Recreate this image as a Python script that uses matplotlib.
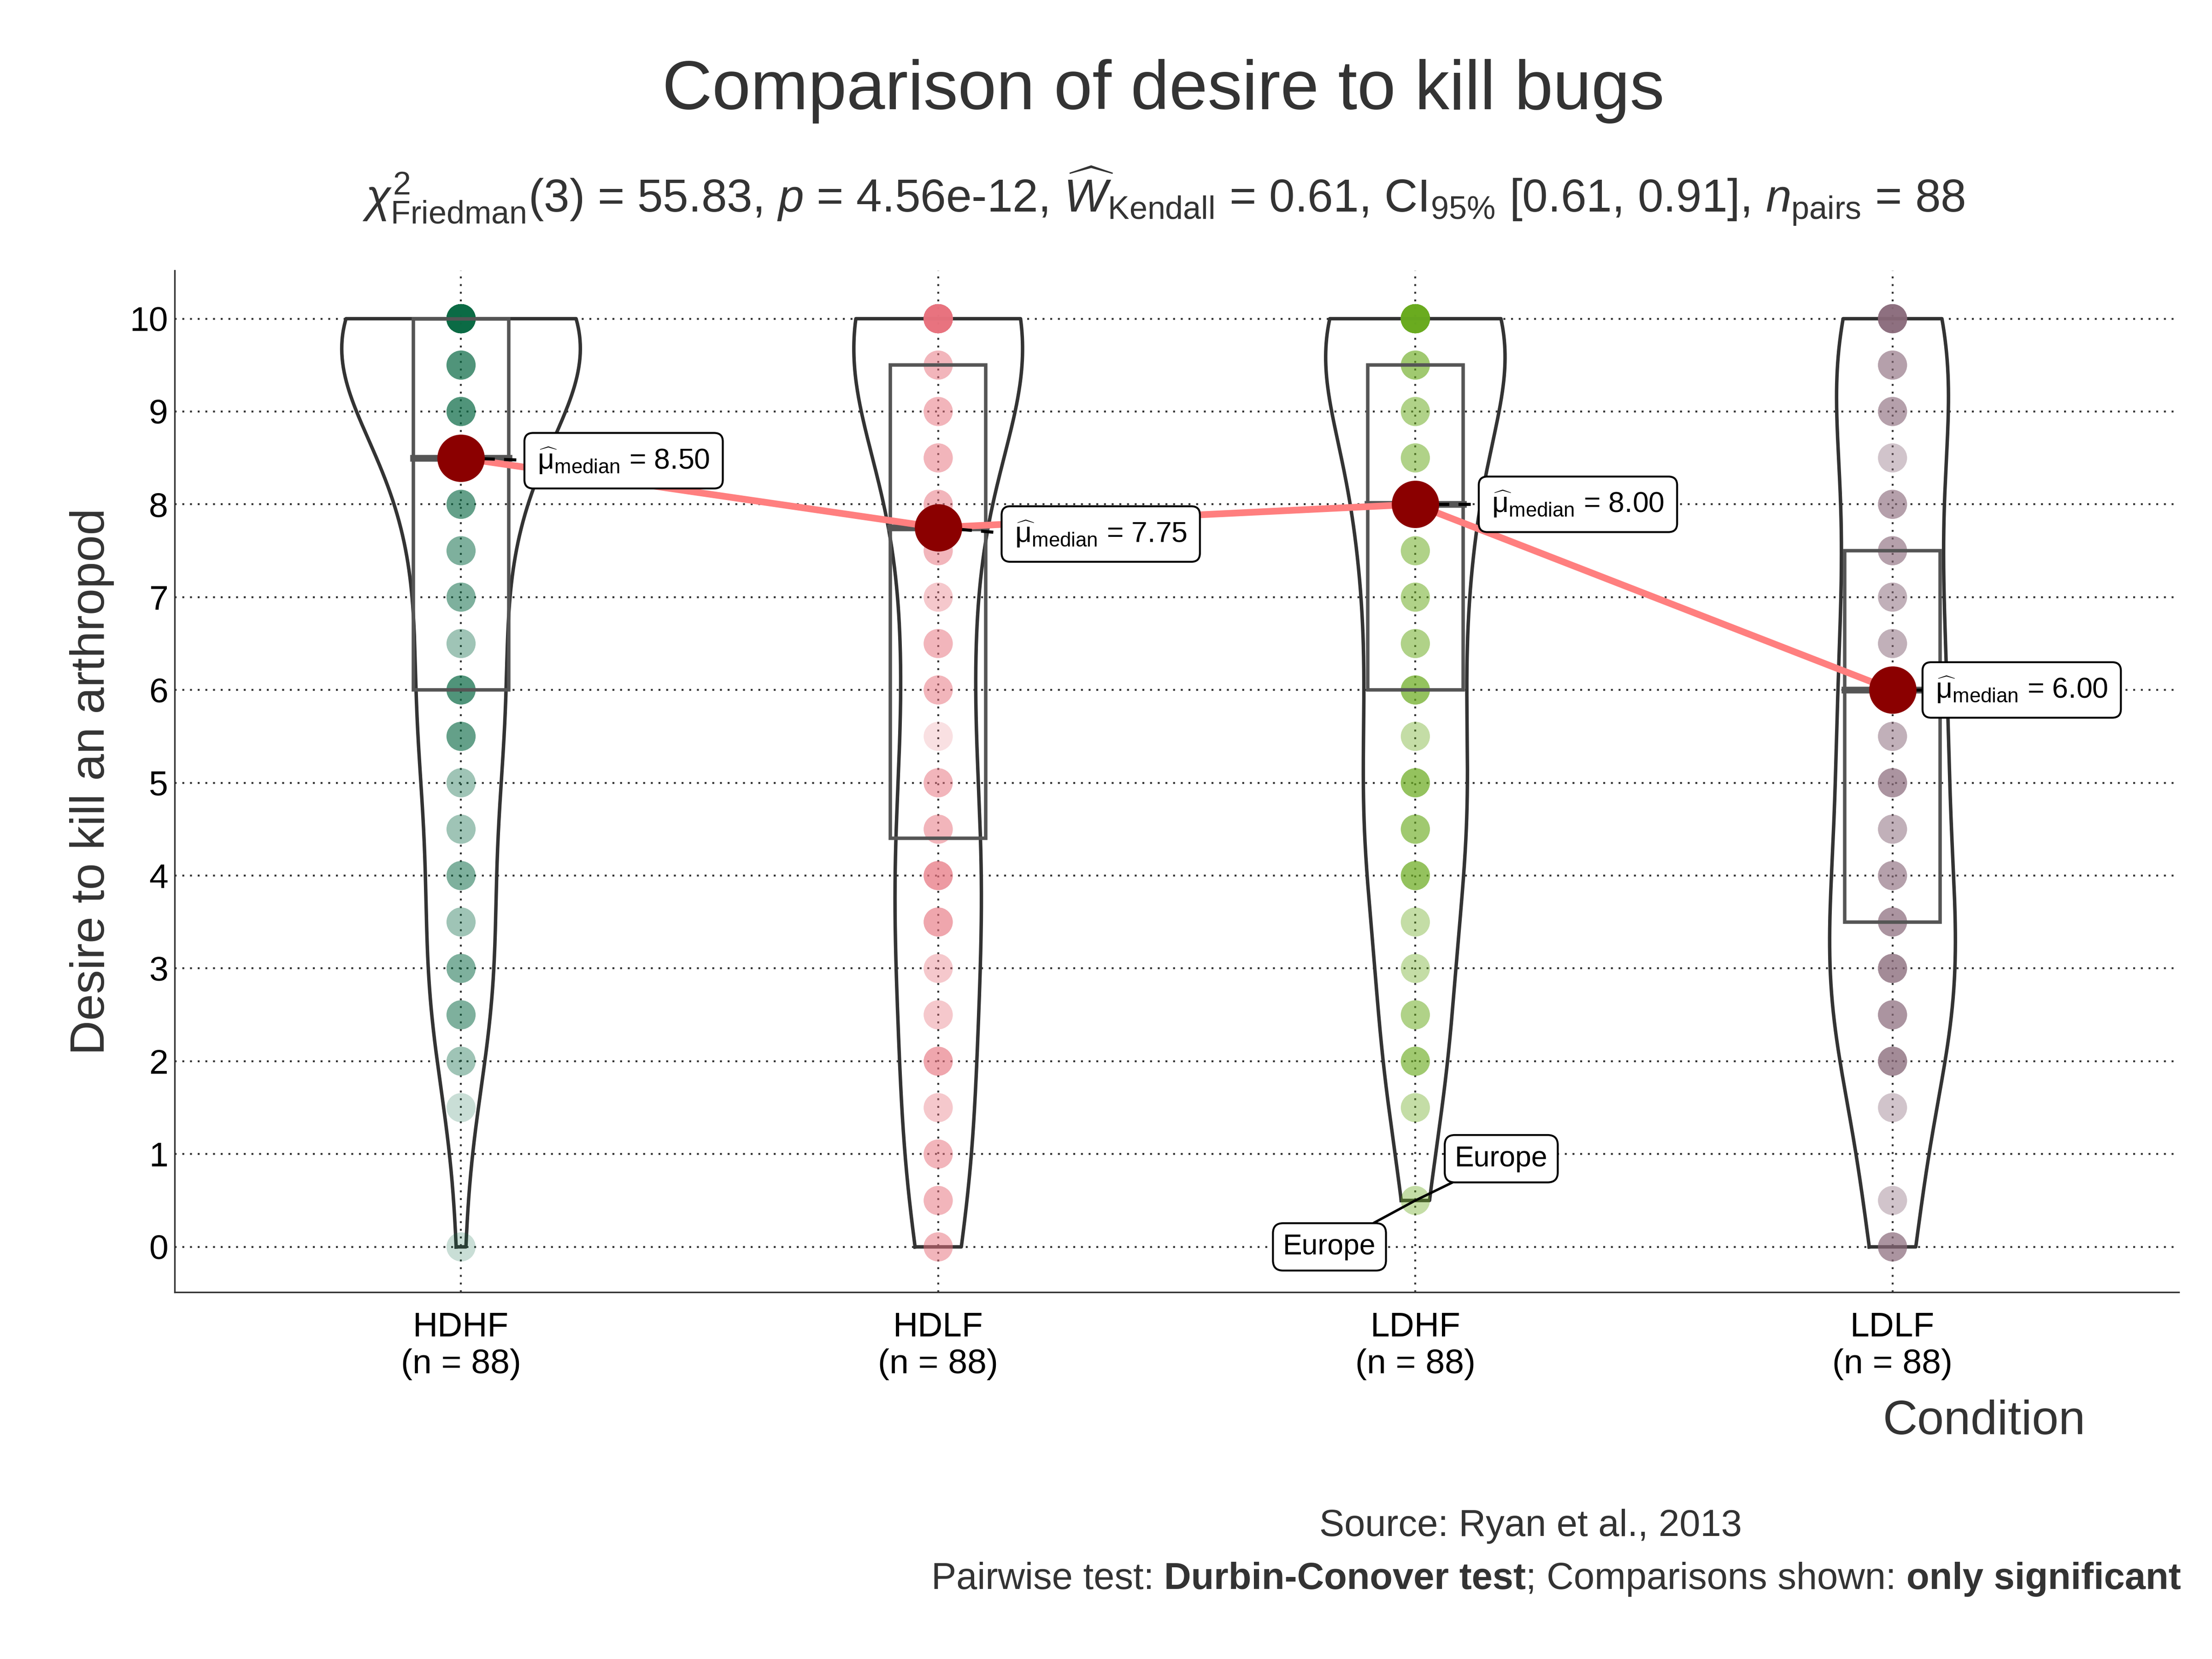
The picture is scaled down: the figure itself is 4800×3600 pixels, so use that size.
import numpy as np
import matplotlib
matplotlib.use("Agg")
import matplotlib.pyplot as plt
from matplotlib.offsetbox import TextArea, HPacker, AnchoredOffsetbox

plt.rcParams['font.family'] = ['Liberation Sans', 'DejaVu Sans']
plt.rcParams['mathtext.fontset'] = 'custom'
plt.rcParams['mathtext.rm'] = 'Liberation Sans'
plt.rcParams['mathtext.it'] = 'Liberation Sans:italic'
plt.rcParams['mathtext.bf'] = 'Liberation Sans:bold'

groups = ["HDHF", "HDLF", "LDHF", "LDLF"]
colors = ["#0B6B45", "#E8737F", "#6AAB1F", "#8B6B7B"]
values = [0, 0.5, 1, 1.5, 2, 2.5, 3, 3.5, 4, 4.5, 5, 5.5, 6, 6.5, 7, 7.5, 8, 8.5, 9, 9.5, 10]
counts = {
    "HDHF": [1, 0, 0, 1, 2, 3, 3, 2, 3, 2, 2, 4, 5, 2, 3, 3, 4, 6, 5, 5, 32],
    "HDLF": [3, 3, 3, 2, 4, 2, 2, 4, 5, 3, 3, 1, 3, 3, 2, 3, 3, 3, 3, 3, 30],
    "LDHF": [0, 2, 0, 2, 4, 3, 2, 2, 5, 4, 5, 2, 5, 3, 3, 3, 8, 3, 3, 4, 25],
    "LDLF": [5, 2, 0, 2, 6, 5, 6, 5, 4, 3, 5, 3, 6, 3, 3, 4, 4, 2, 4, 4, 12],
}
q1 = [6.0, 4.4, 6.0, 3.5]
medians = [8.50, 7.75, 8.00, 6.00]
q3 = [10.0, 9.5, 9.5, 7.5]

fig = plt.figure(figsize=(16, 12), dpi=300)
ax = fig.add_axes([0.079, 0.221, 0.906, 0.616])
ax.set_xlim(0.4, 4.6)
ax.set_ylim(-0.49, 10.52)

dens_all = []
for g in groups:
    d = np.repeat(values, counts[g])
    n = len(d)
    iqr = np.subtract(*np.percentile(d, [75, 25]))
    bw = 0.9 * min(d.std(ddof=1), iqr / 1.34) * n ** (-0.2)
    ys = np.linspace(d.min(), d.max(), 400)
    dens = np.exp(-0.5 * ((ys[:, None] - d[None, :]) / bw) ** 2).sum(1) / (n * bw * np.sqrt(2 * np.pi))
    dens_all.append((ys, dens))
gmax = max(dd.max() for _, dd in dens_all)
for i, (ys, dens) in enumerate(dens_all):
    x = i + 1
    w = dens / gmax * 0.25
    ax.plot(np.r_[x - w, (x + w)[::-1], x - w[0]], np.r_[ys, ys[::-1], ys[0]],
            color="#333333", lw=1.8, zorder=3)

for i, g in enumerate(groups):
    d = np.repeat(values, counts[g])
    ax.scatter(np.full(len(d), i + 1), d, s=230, color=colors[i], alpha=0.22,
               edgecolors='none', zorder=4)

for i in range(4):
    x = i + 1
    ax.add_patch(plt.Rectangle((x - 0.1, q1[i]), 0.2, q3[i] - q1[i], fill=False,
                               ec="#555555", lw=1.8, zorder=5))
    ax.plot([x - 0.1, x + 0.1], [medians[i]] * 2, color="#555555", lw=3.5, zorder=5)

xs = np.arange(1, 5)
ax.plot(xs, medians, color="#FF7F7F", lw=3.5, zorder=6)
ax.scatter(xs, medians, s=560, color="#8B0000", zorder=7)

label_off = [(0.16, -0.03), (0.16, -0.07), (0.16, 0.0), (0.09, 0.0)]
for i in range(4):
    lx = xs[i] + label_off[i][0]
    ly = medians[i] + label_off[i][1]
    ax.plot([xs[i], lx], [medians[i], ly], color="black", ls=(0, (4, 3)), lw=1.6, zorder=6)
    ax.text(lx, ly, r"$\widehat{\mathrm{μ}}_{\mathrm{median}}$ = %.2f" % medians[i], fontsize=15,
            va="center", ha="left", zorder=8,
            bbox=dict(boxstyle="round,pad=0.45,rounding_size=0.3", fc="white", ec="black", lw=1.0))

ax.annotate("Europe", xy=(3, 0.5), xytext=(2.82, 0.0), fontsize=15, ha="center", va="center",
            arrowprops=dict(arrowstyle="-", color="black", lw=1.3, shrinkA=0, shrinkB=0),
            bbox=dict(boxstyle="round,pad=0.35", fc="white", ec="black", lw=1.0), zorder=8)
ax.annotate("Europe", xy=(3, 0.5), xytext=(3.18, 0.95), fontsize=15, ha="center", va="center",
            arrowprops=dict(arrowstyle="-", color="black", lw=1.3, shrinkA=0, shrinkB=0),
            bbox=dict(boxstyle="round,pad=0.35", fc="white", ec="black", lw=1.0), zorder=8)

ax.set_yticks(range(0, 11))
ax.set_xticks(xs)
ax.set_xticklabels([f"{g}\n(n = 88)" for g in groups], fontsize=18)
ax.tick_params(axis='y', labelsize=18, length=0)
ax.tick_params(axis='x', length=0, pad=10)
ax.grid(True, ls=(0, (1, 3)), color="#333333", lw=1.0)
ax.set_axisbelow(True)
for s in ["top", "right"]:
    ax.spines[s].set_visible(False)
for s in ["left", "bottom"]:
    ax.spines[s].set_color("#333333")
ax.set_ylabel("Desire to kill an arthropod", fontsize=25, color="#333333", labelpad=8)

fig.text(0.526, 0.945, "Comparison of desire to kill bugs", fontsize=36, color="#333333",
         ha="center", va="center")
fig.text(0.526, 0.882,
         r"$\chi^2_{\mathrm{Friedman}}$(3) = 55.83, $\mathit{p}$ = 4.56e-12, "
         r"$\widehat{W}_{\mathrm{Kendall}}$ = 0.61, CI$_{95\%}$ [0.61, 0.91], "
         r"$\mathit{n}_{\mathrm{pairs}}$ = 88",
         fontsize=24, color="#333333", ha="center", va="center")
fig.text(0.897, 0.143, "Condition", fontsize=25, color="#333333", ha="center", va="center")
fig.text(0.692, 0.080, "Source: Ryan et al., 2013", fontsize=19.5, color="#333333",
         ha="center", va="center")

parts = [("Pairwise test: ", "normal"), ("Durbin-Conover test", "bold"),
         ("; Comparisons shown: ", "normal"), ("only significant", "bold")]
tas = [TextArea(t, textprops=dict(fontsize=19.5, color="#333333", fontweight=w)) for t, w in parts]
box = HPacker(children=tas, align="baseline", pad=0, sep=0)
ab = AnchoredOffsetbox(loc="center right", child=box, frameon=False,
                       bbox_to_anchor=(0.986, 0.048), bbox_transform=fig.transFigure, pad=0, borderpad=0)
fig.add_artist(ab)

fig.savefig("out.png", dpi=300, facecolor="white")
